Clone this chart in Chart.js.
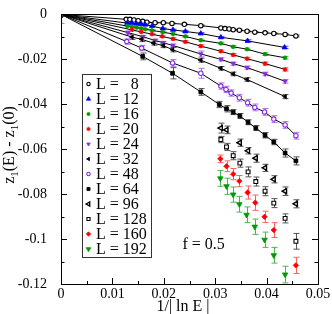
<!DOCTYPE html>
<html><head><meta charset="utf-8">
<script src="https://cdn.jsdelivr.net/npm/chart.js@4.4.1/dist/chart.umd.min.js"></script>
<style>html,body{margin:0;padding:0;background:#fff}#wrap{width:332px;height:314px;position:relative}</style>
</head><body><div id="wrap"><canvas id="c" width="332" height="314"></canvas></div>
<script>
// ---------------- data ----------------
const seriesNames = ['8','12','16','20','24','32','48','64','96','128','160','192'];
const xTickLabels = ['0','0.01','0.02','0.03','0.04','0.05'];
const yTickLabels = ['0','-0.02','-0.04','-0.06','-0.08','-0.1','-0.12'];

const x8  = [0,0.0127,0.0134,0.0142,0.0150,0.0159,0.0167,0.0183,0.0199,0.0216,0.0240,0.0272,0.0311,0.0319,0.0327,0.0335,0.0347,0.0362,0.0377,0.0397,0.0414,0.0436,0.0457];
const y8  = [0,-0.0022,-0.0022,-0.0025,-0.0028,-0.0031,-0.0035,-0.0037,-0.0037,-0.0040,-0.0044,-0.0050,-0.0060,-0.0063,-0.0065,-0.0068,-0.0070,-0.0075,-0.0079,-0.0082,-0.0085,-0.0089,-0.0096];
const e8  = [0,0.0002,0.0002,0.0002,0.0002,0.0002,0.0002,0.0002,0.0002,0.0002,0.0003,0.0003,0.0003,0.0003,0.0003,0.0003,0.0003,0.0003,0.0003,0.0003,0.0003,0.0003,0.0004];

const x12 = [0,0.0129,0.0138,0.0147,0.0156,0.0164,0.0177,0.0198,0.0218,0.0242,0.0272,0.0311,0.0363,0.0435];
const y12 = [0,-0.0039,-0.0039,-0.0042,-0.0043,-0.0046,-0.0052,-0.0063,-0.0069,-0.0076,-0.0085,-0.0102,-0.0118,-0.0147];
const e12 = [0,0.0003,0.0003,0.0003,0.0003,0.0003,0.0003,0.0003,0.0003,0.0004,0.0004,0.0004,0.0005,0.0005];

const x16 = [0,0.0129,0.0138,0.0147,0.0156,0.0164,0.0177,0.0198,0.0218,0.0242,0.0272,0.0311,0.0335,0.0362,0.0397,0.0436];
const y16 = [0,-0.0052,-0.0055,-0.0059,-0.0062,-0.0066,-0.0071,-0.0079,-0.0087,-0.0098,-0.0115,-0.0129,-0.0144,-0.0155,-0.0177,-0.0193];
const e16 = [0,0.0003,0.0003,0.0003,0.0003,0.0003,0.0004,0.0004,0.0004,0.0004,0.0005,0.0005,0.0005,0.0005,0.0006,0.0006];

const x20 = [0,0.0138,0.0156,0.0177,0.0197,0.0218,0.0242,0.0272,0.0311,0.0335,0.0362,0.0397,0.0436];
const y20 = [0,-0.0069,-0.0078,-0.0088,-0.0098,-0.0109,-0.0122,-0.0141,-0.0164,-0.0180,-0.0197,-0.0219,-0.0245];
const e20 = [0,0.0004,0.0004,0.0004,0.0005,0.0005,0.0005,0.0006,0.0006,0.0006,0.0006,0.0007,0.0007];

const x24 = [0,0.0130,0.0159,0.0183,0.0199,0.0217,0.0272,0.0311,0.0335,0.0362,0.0397,0.0436];
const y24 = [0,-0.0081,-0.0099,-0.0116,-0.0126,-0.0138,-0.0176,-0.0200,-0.0219,-0.0237,-0.0265,-0.0298];
const e24 = [0,0.0007,0.0006,0.0006,0.0006,0.0006,0.0013,0.0007,0.0007,0.0007,0.0008,0.0008];

const x32 = [0,0.0138,0.0157,0.0180,0.0199,0.0217,0.0272,0.0311,0.0335,0.0362,0.0436];
const y32 = [0,-0.0101,-0.0111,-0.0128,-0.0139,-0.0157,-0.0204,-0.0240,-0.0265,-0.0290,-0.0366];
const e32 = [0,0.0010,0.0010,0.0009,0.0009,0.0010,0.0009,0.0008,0.0008,0.0008,0.0009];

const x48 = [0,0.0128,0.0157,0.0217,0.0272,0.0311,0.0321,0.0331,0.0347,0.0363,0.0377,0.0396,0.0414,0.0436,0.0457];
const y48 = [0,-0.0121,-0.0150,-0.0216,-0.0262,-0.0319,-0.0334,-0.0350,-0.0371,-0.0393,-0.0414,-0.0434,-0.0466,-0.0492,-0.0540];
const e48 = [0,0.0012,0.0012,0.0015,0.0022,0.0014,0.0014,0.0014,0.0015,0.0015,0.0015,0.0015,0.0015,0.0015,0.0015];

const x64 = [0,0.0159,0.0217,0.0272,0.0308,0.0322,0.0335,0.0348,0.0364,0.0379,0.0397,0.0414,0.0436,0.0457];
const y64 = [0,-0.0187,-0.0262,-0.0345,-0.0401,-0.0420,-0.0435,-0.0452,-0.0480,-0.0506,-0.0538,-0.0568,-0.0617,-0.0652];
const e64 = [0,0.0015,0.0025,0.0015,0.0014,0.0014,0.0011,0.0011,0.0011,0.0011,0.0012,0.0012,0.0018,0.0018];

const x96 = [0,0.0311,0.0322,0.0348,0.0364,0.0379,0.0397,0.0414,0.0436,0.0457];
const y96 = [0,-0.0506,-0.0514,-0.0571,-0.0607,-0.0640,-0.0683,-0.0734,-0.0787,-0.0843];
const e96 = [0,0.0022,0.0017,0.0016,0.0014,0.0018,0.0016,0.0016,0.0019,0.0018];

const x128 = [0,0.0311,0.0322,0.0335,0.0348,0.0364,0.0379,0.0397,0.0414,0.0436,0.0457];
const y128 = [0,-0.0557,-0.0590,-0.0629,-0.0662,-0.0701,-0.0744,-0.0787,-0.0840,-0.0908,-0.1010];
const e128 = [0,0.0014,0.0016,0.0018,0.0018,0.0022,0.0020,0.0020,0.0020,0.0020,0.0035];

const x160 = [0,0.0310,0.0322,0.0335,0.0347,0.0363,0.0378,0.0396,0.0414,0.0457];
const y160 = [0,-0.0643,-0.0676,-0.0711,-0.0742,-0.0793,-0.0838,-0.0901,-0.0960,-0.1117];
const e160 = [0,0.0017,0.0024,0.0025,0.0025,0.0029,0.0034,0.0025,0.0033,0.0036];

const x192 = [0,0.0310,0.0322,0.0335,0.0347,0.0361,0.0377,0.0396,0.0414,0.0436];
const y192 = [0,-0.0730,-0.0765,-0.0802,-0.0845,-0.0892,-0.0945,-0.1003,-0.1072,-0.1158];
const e192 = [0.0040,0.0035,0.0036,0.0034,0.0035,0.0035,0.0034,0.0034,0.0035,0.0037];

const fLabel = 'f = 0.5';

// ---------------- styles ----------------
const allX = [x8,x12,x16,x20,x24,x32,x48,x64,x96,x128,x160,x192];
const allY = [y8,y12,y16,y20,y24,y32,y48,y64,y96,y128,y160,y192];
const allE = [e8,e12,e16,e20,e24,e32,e48,e64,e96,e128,e160,e192];
const BLK='#000000', BLU='#0000ff', GRN='#009a00', RED='#ff0000', PUR='#8a2be2';
const marks = [
  {ps:'circle',  rot:0,   r:2.2, fill:'#fff', col:BLK, bw:1.1, err:'#555'},
  {ps:'triangle',rot:0,   r:2.9, fill:BLU, col:BLU, bw:0.8, err:'#4d4dff'},
  {ps:'circle',  rot:0,   r:1.8, fill:GRN, col:GRN, bw:0.8, err:'#4cb84c'},
  {ps:'circle',  rot:0,   r:1.8, fill:RED, col:RED, bw:0.8, err:'#ff6060'},
  {ps:'triangle',rot:180, r:2.5, fill:PUR, col:PUR, bw:0.8, err:'#a873e8'},
  {ps:'triangle',rot:-90, r:2.5, fill:BLK, col:BLK, bw:0.8, err:'#555'},
  {ps:'circle',  rot:0,   r:2.2, fill:'#fff', col:PUR, bw:1.1, err:'#a873e8'},
  {ps:'rect',    rot:0,   r:2.7, fill:BLK, col:BLK, bw:0.8, err:'#555'},
  {ps:'triangle',rot:-90, r:2.9, fill:'#fff', col:BLK, bw:1.4, err:'#555'},
  {ps:'rect',    rot:0,   r:2.7, fill:'#fff', col:BLK, bw:1.1, err:'#555'},
  {ps:'rectRot', rot:0,   r:2.7, fill:RED, col:RED, bw:0.8, err:'#ff6060'},
  {ps:'triangle',rot:180, r:3.2, fill:GRN, col:GRN, bw:0.8, err:'#4cb84c'}
];
const withLine = [true,true,true,true,true,true,true,true,false,false,false,false];

const SERIF = '"Liberation Serif", "DejaVu Serif", serif';

const datasets = seriesNames.map((n,i)=>({
  label:'L = '+n,
  data: allX[i].map((x,k)=>({x:x, y:allY[i][k]})),
  errs: allE[i],
  errColor: marks[i].err,
  showLine: withLine[i],
  borderColor:'#000', borderWidth:1, tension:0,
  pointStyle: marks[i].ps, pointRotation: marks[i].rot, pointRadius: marks[i].r,
  pointBackgroundColor: marks[i].fill, pointBorderColor: marks[i].col, pointBorderWidth: marks[i].bw,
  order: seriesNames.length - i
}));

// error bars, drawn just before each dataset
const errorBars = {
  id:'errorBars',
  beforeDatasetDraw(chart, args){
    const ds = chart.data.datasets[args.index];
    const {ctx, chartArea:a, scales:{x,y}} = chart;
    ctx.save();
    ctx.beginPath(); ctx.rect(a.left, a.top, a.right-a.left, a.bottom-a.top); ctx.clip();
    ctx.strokeStyle = ds.errColor; ctx.lineWidth = 1;
    ds.data.forEach((p,k)=>{
      const e = ds.errs[k]; if(!e) return;
      const px = Math.round(x.getPixelForValue(p.x))+0.5;
      const y1 = y.getPixelForValue(p.y+e), y2 = y.getPixelForValue(p.y-e);
      ctx.beginPath();
      ctx.moveTo(px,y1); ctx.lineTo(px,y2);
      ctx.moveTo(px-3,y1); ctx.lineTo(px+3,y1);
      ctx.moveTo(px-3,y2); ctx.lineTo(px+3,y2);
      ctx.stroke();
    });
    ctx.restore();
  }
};

const decor = {
  id:'decor',
  afterDraw(chart){
    const {ctx, chartArea:a, scales:{x,y}} = chart;
    ctx.save();
    ctx.strokeStyle='#000'; ctx.lineWidth=1;
    // frame
    ctx.strokeRect(Math.round(a.left)+0.5, Math.round(a.top)+0.5, Math.round(a.right-a.left), Math.round(a.bottom-a.top));
    // inward ticks
    ctx.beginPath();
    for(let i=0;i<=10;i++){
      const px = Math.round(x.getPixelForValue(i*0.005))+0.5;
      const len = i%2===0 ? 6 : 3;
      ctx.moveTo(px, a.bottom); ctx.lineTo(px, a.bottom-len);
    }
    for(let i=0;i<=12;i++){
      const py = Math.round(y.getPixelForValue(-i*0.01))+0.5;
      const len = i%2===0 ? 6 : 3.5;
      ctx.moveTo(a.left, py); ctx.lineTo(a.left+len, py);
      ctx.moveTo(a.right, py); ctx.lineTo(a.right-len, py);
    }
    ctx.stroke();

    // x tick labels (from the x scale's ticks)
    ctx.fillStyle='#000'; ctx.font='14px '+SERIF; ctx.textAlign='center'; ctx.textBaseline='middle';
    x.ticks.forEach(t=>{
      const lab = xTickLabels[Math.round(t.value/0.01)];
      if(lab!==undefined) ctx.fillText(lab, x.getPixelForValue(t.value), 294);
    });

    // legend
    const lx=82, ly=74, lw=69, lh=183;
    ctx.fillStyle='#fff'; ctx.fillRect(lx,ly,lw,lh);
    ctx.strokeStyle='#333'; ctx.strokeRect(lx+0.5,ly+0.5,lw,lh);
    ctx.font = '16px '+SERIF; ctx.textBaseline='middle'; ctx.textAlign='left';
    const pre = 'L = ';
    const preW = ctx.measureText(pre).width;
    const digW = ctx.measureText('0').width;
    seriesNames.forEach((n,i)=>{
      const cy = 84 + i*15;
      const m = marks[i];
      ctx.save();
      ctx.fillStyle=m.fill; ctx.strokeStyle=m.col; ctx.lineWidth=m.bw;
      Chart.helpers.drawPoint(ctx,{pointStyle:m.ps, rotation:m.rot, radius:Math.max(1.6,m.r-0.5), borderWidth:m.bw}, 88.5, cy);
      ctx.restore();
      ctx.fillStyle='#000';
      ctx.fillText(pre, 96, cy+1);
      ctx.fillText(n, 96+preW+(n.length===1?digW:0), cy+1);
    });

    // annotation
    ctx.font='16px '+SERIF; ctx.fillStyle='#000'; ctx.textBaseline='alphabetic';
    ctx.fillText(fLabel, 182.5, 248.5);

    // x title
    ctx.textAlign='center';
    ctx.fillText('1/| ln E |', 183, 310.5);

    // y title (rotated, with subscripts)
    ctx.translate(13.5, 145);
    ctx.rotate(-Math.PI/2);
    const big='16px '+SERIF, small='11px '+SERIF;
    const parts=[['z',big,0],['1',small,4],['(E) - z',big,0],['1',small,4],['(0)',big,0]];
    let tot=0; parts.forEach(p=>{ctx.font=p[1]; tot+=ctx.measureText(p[0]).width;});
    let cx=-tot/2; ctx.textAlign='left';
    parts.forEach(p=>{ctx.font=p[1]; ctx.fillText(p[0], cx, p[2]); cx+=ctx.measureText(p[0]).width;});
    ctx.restore();
  }
};

new Chart(document.getElementById('c'), {
  type:'scatter',
  data:{datasets},
  options:{
    responsive:false, animation:false, devicePixelRatio:1,
    layout:{padding:{top:6,right:14,left:0,bottom:0}},
    plugins:{legend:{display:false}, tooltip:{enabled:false}},
    scales:{
      x:{type:'linear', min:0, max:0.05,
         afterFit(s){s.height=30;},
         grid:{display:false}, border:{display:false},
         ticks:{display:false, stepSize:0.01, autoSkip:false, maxRotation:0}},
      y:{type:'linear', min:-0.12, max:0,
         afterFit(s){s.width=61;},
         grid:{display:false}, border:{display:false},
         ticks:{stepSize:0.02, autoSkip:false, padding:6, color:'#000',
           font:{family:SERIF, size:14},
           callback:(v)=>yTickLabels[Math.round(-v/0.02)] ?? ''}}
    }
  },
  plugins:[errorBars, decor]
});
</script>
</body></html>
